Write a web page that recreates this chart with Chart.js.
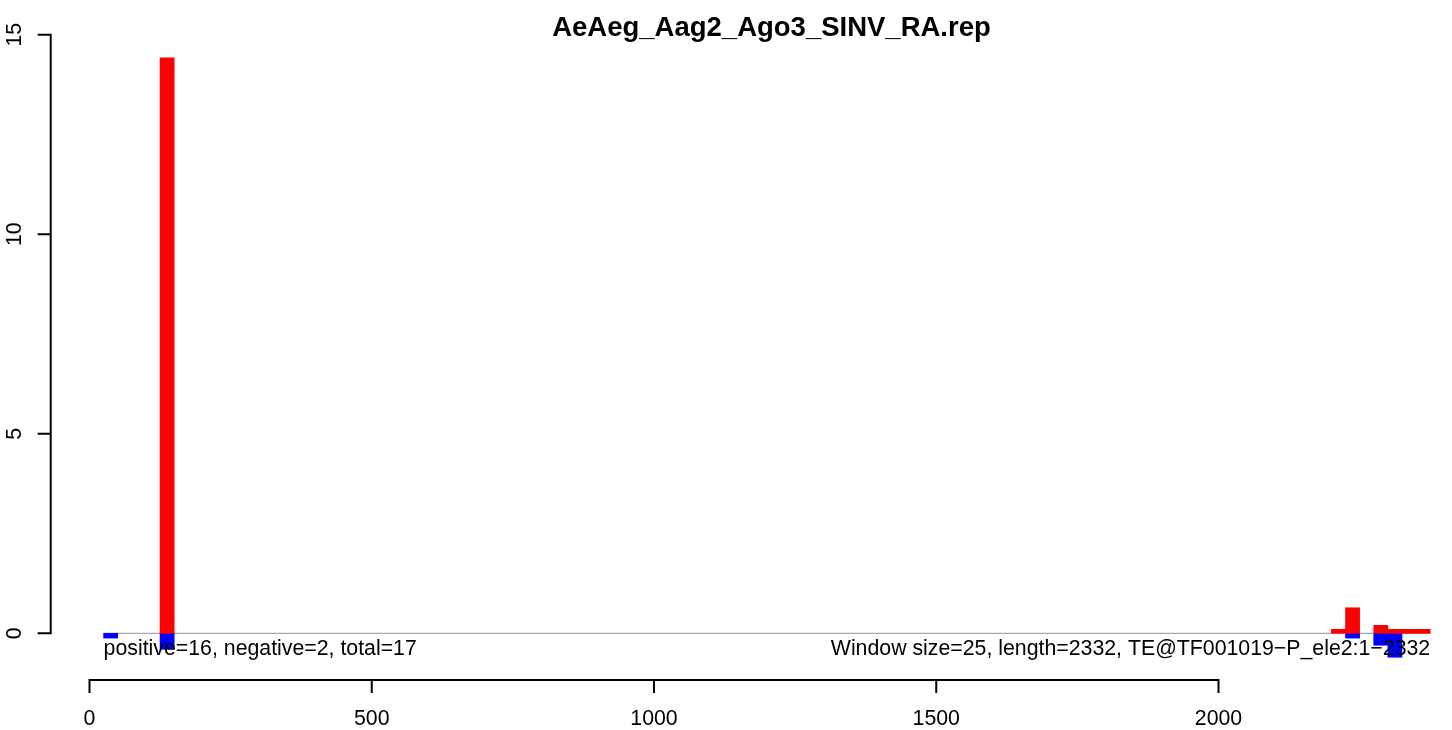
<!DOCTYPE html>
<html>
<head>
<meta charset="utf-8">
<script src="https://cdn.jsdelivr.net/npm/chart.js@4/dist/chart.umd.min.js"></script>
<style>
  html, body { margin: 0; padding: 0; background: #ffffff; }
  #wrap { position: relative; width: 1452px; height: 730px; }
</style>
</head>
<body>
<div id="wrap"><canvas id="c"></canvas></div>
<script>
// ---- data ----
const chartTitle = "AeAeg_Aag2_Ago3_SINV_RA.rep";
const leftNote = "positive=16, negative=2, total=17";
const rightNote = "Window size=25, length=2332, TE@TF001019\u2212P_ele2:1\u22122332";
const windowSize = 25;
const posStarts = [125, 2200, 2225, 2275, 2300, 2325, 2350];
const posValues = [14.42, 0.1, 0.64, 0.2, 0.1, 0.1, 0.1];
const negStarts = [25, 125, 2225, 2275, 2300];
const negValues = [-0.12, -0.4, -0.12, -0.3, -0.6];
const xTicks = [0, 500, 1000, 1500, 2000];
const yTicks = [0, 5, 10, 15];

// ---- layout (scale ranges chosen so the full canvas is the plot area) ----
const X_MIN = -158.55, X_MAX = 2413.64;
const Y_MIN = -2.4232, Y_MAX = 15.8695;
const Y_AXIS_AT_X = -68.7;     // x-value where the y axis line sits
const X_AXIS_AT_Y = -1.17;     // y-value where the x axis line sits
const NOTE_Y = -0.544;         // baseline of the two notes
const FONT = '"Liberation Sans", Arial, Helvetica, sans-serif';

const toXY = (starts, vals) => starts.map((s, i) => ({ x: s + windowSize / 2, y: vals[i] }));

const rAxes = {
  id: 'rAxes',
  beforeDatasetsDraw(chart) {
    const { ctx, scales: { x, y } } = chart;
    ctx.save();
    const first = Math.min(...posStarts, ...negStarts);
    const last = Math.max(...posStarts, ...negStarts) + windowSize;
    ctx.strokeStyle = '#a6a6a6';
    ctx.lineWidth = 1.3;
    ctx.beginPath();
    ctx.moveTo(x.getPixelForValue(first), y.getPixelForValue(0));
    ctx.lineTo(x.getPixelForValue(last), y.getPixelForValue(0));
    ctx.stroke();
    ctx.restore();
  },
  afterDraw(chart) {
    const { ctx, scales: { x, y } } = chart;
    ctx.save();
    ctx.strokeStyle = '#000';
    ctx.fillStyle = '#000';
    ctx.lineWidth = 2;
    ctx.lineCap = 'butt';
    const tick = 13;

    // y axis
    const ax = x.getPixelForValue(Y_AXIS_AT_X);
    ctx.beginPath();
    ctx.moveTo(ax, y.getPixelForValue(yTicks[0]));
    ctx.lineTo(ax, y.getPixelForValue(yTicks[yTicks.length - 1]));
    yTicks.forEach(v => {
      const py = y.getPixelForValue(v);
      ctx.moveTo(ax + 1, py);
      ctx.lineTo(ax - tick, py);
    });
    ctx.stroke();
    ctx.font = '21.3px ' + FONT;
    ctx.textAlign = 'center';
    ctx.textBaseline = 'alphabetic';
    yTicks.forEach(v => {
      const py = y.getPixelForValue(v);
      ctx.save();
      ctx.translate(20.5, py);
      ctx.rotate(-Math.PI / 2);
      ctx.fillText(String(v), 0, 0);
      ctx.restore();
    });

    // x axis
    const ay = y.getPixelForValue(X_AXIS_AT_Y);
    ctx.beginPath();
    ctx.moveTo(x.getPixelForValue(xTicks[0]), ay);
    ctx.lineTo(x.getPixelForValue(xTicks[xTicks.length - 1]), ay);
    xTicks.forEach(v => {
      const px = x.getPixelForValue(v);
      ctx.moveTo(px, ay - 1);
      ctx.lineTo(px, ay + tick);
    });
    ctx.stroke();
    xTicks.forEach(v => {
      ctx.fillText(String(v), x.getPixelForValue(v), 725);
    });

    // notes
    const first = Math.min(...posStarts, ...negStarts);
    const last = Math.max(...posStarts, ...negStarts) + windowSize;
    const ny = y.getPixelForValue(NOTE_Y);
    ctx.textAlign = 'left';
    ctx.fillText(leftNote, x.getPixelForValue(first), ny);
    ctx.textAlign = 'right';
    ctx.fillText(rightNote, x.getPixelForValue(last), ny);

    // title
    ctx.font = 'bold 27.5px ' + FONT;
    ctx.textAlign = 'center';
    ctx.fillText(chartTitle, 771.5, 36);
    ctx.restore();
  }
};

new Chart(document.getElementById('c'), {
  type: 'bar',
  data: {
    datasets: [
      { label: 'positive', data: toXY(posStarts, posValues), backgroundColor: '#ff0000',
        borderWidth: 0, barPercentage: 1, categoryPercentage: 1 },
      { label: 'negative', data: toXY(negStarts, negValues), backgroundColor: '#0000ff',
        borderWidth: 0, barPercentage: 1, categoryPercentage: 1 }
    ]
  },
  options: {
    responsive: true,
    maintainAspectRatio: false,
    animation: false,
    devicePixelRatio: 1,
    layout: { padding: 0 },
    plugins: { legend: { display: false }, tooltip: { enabled: false }, title: { display: false } },
    scales: {
      x: { type: 'linear', min: X_MIN, max: X_MAX, display: false, stacked: true, offset: false,
           grid: { offset: false }, ticks: { stepSize: 500 } },
      y: { type: 'linear', min: Y_MIN, max: Y_MAX, display: false, stacked: true }
    }
  },
  plugins: [rAxes]
});
</script>
</body>
</html>
